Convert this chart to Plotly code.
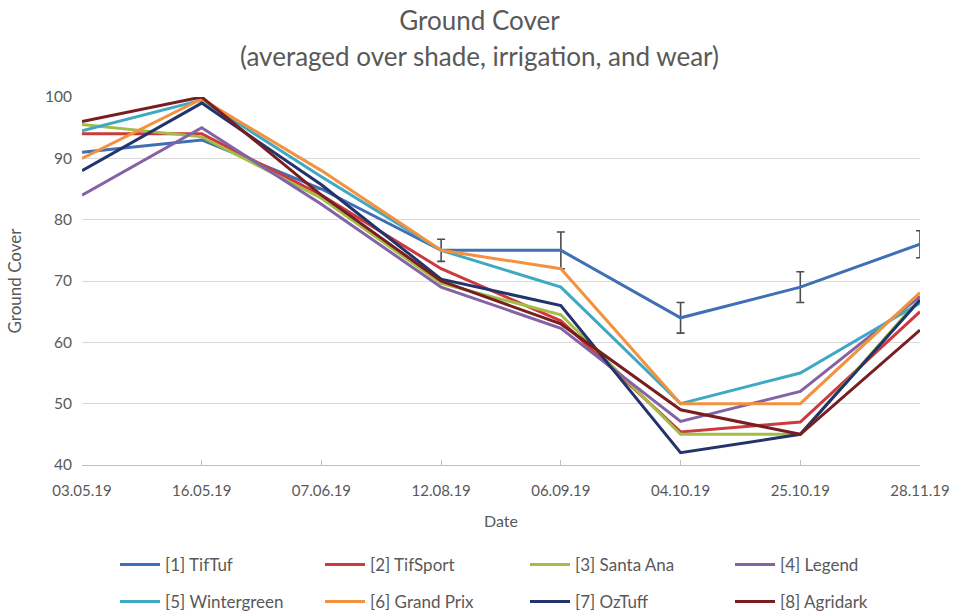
import plotly.graph_objects as go

dates = ["03.05.19", "16.05.19", "07.06.19", "12.08.19", "06.09.19", "04.10.19", "25.10.19", "28.11.19"]

tiftuf      = [91, 93, 85, 75, 75, 64, 69, 76]
tiftuf_err  = [0, 0, 0, 1.8, 3.0, 2.5, 2.5, 2.2]
tifsport    = [94, 94, 84, 72, 63.5, 45.4, 47, 65]
santa_ana   = [95.5, 93.5, 83.5, 69.6, 64.5, 45, 45, 67.2]
legend_v    = [84, 95, 82.5, 69, 62.3, 47.1, 52, 67.5]
wintergreen = [94.5, 99.5, 87, 75, 69, 50, 55, 66.4]
grand_prix  = [90, 99.7, 88, 75, 72, 50, 50, 68.1]
oztuff      = [88, 99, 85.7, 70.3, 66, 42, 45, 66.9]
agridark    = [96, 100, 84, 70, 63, 49, 45, 62]

names = ["[1] TifTuf", "[2] TifSport", "[3] Santa Ana", "[4] Legend",
         "[5] Wintergreen", "[6] Grand Prix", "[7] OzTuff", "[8] Agridark"]
series = [tiftuf, tifsport, santa_ana, legend_v, wintergreen, grand_prix, oztuff, agridark]
colors = ["#3F6FB4", "#CC3A3F", "#A2BE45", "#8363A6", "#3FA9C4", "#F3923E", "#22346B", "#781E20"]

title_line1 = "Ground Cover"
title_line2 = "(averaged over shade, irrigation, and wear)"

FONT = "Lato"
TXT = "#595959"

fig = go.Figure()
for i in range(8):
    kw = {}
    if i == 0:
        kw["error_y"] = dict(type="data", array=tiftuf_err, visible=True,
                             color="#4D4D4D", thickness=1.6, width=4)
    fig.add_trace(go.Scatter(
        x=dates, y=series[i], mode="lines", name=names[i],
        line=dict(color=colors[i], width=3),
        legend="legend" if i < 4 else "legend2",
        **kw))

fig.update_layout(
    width=959, height=614,
    paper_bgcolor="white", plot_bgcolor="white",
    margin=dict(l=82, r=39, t=97, b=149),
    font=dict(family=FONT, color=TXT, size=15),
    title=dict(text=title_line1,
               x=0.5, xref="container", xanchor="center",
               y=1 - 21/614, yref="container", yanchor="middle",
               font=dict(family=FONT, size=26, color=TXT)),
    xaxis=dict(type="category", range=[0, 7], showgrid=False, automargin=False,
               showline=True, linecolor="#BFBFBF", linewidth=1,
               ticks="inside", ticklen=5, tickcolor="#BFBFBF",
               tickfont=dict(size=15, color=TXT), ticklabelstandoff=12,
               title=dict(text="Date", font=dict(size=16, color=TXT), standoff=17),
               zeroline=False),
    yaxis=dict(range=[40, 100], dtick=10, showgrid=True, gridcolor="#D9D9D9",
               gridwidth=1, showline=False, zeroline=False, ticks="", automargin=False,
               tickfont=dict(size=15.5, color=TXT), ticklabelstandoff=9,
               title=dict(text="Ground Cover", font=dict(size=17, color=TXT), standoff=19)),
    legend=dict(orientation="h", xref="container", yref="container",
                x=115/959, xanchor="left", y=1 - 547/614, yanchor="top",
                entrywidth=150, entrywidthmode="pixels", itemwidth=40,
                font=dict(size=17, color=TXT), bgcolor="rgba(0,0,0,0)"),
    legend2=dict(orientation="h", xref="container", yref="container",
                 x=115/959, xanchor="left", y=1 - 584/614, yanchor="top",
                 entrywidth=150, entrywidthmode="pixels", itemwidth=40,
                 font=dict(size=17, color=TXT), bgcolor="rgba(0,0,0,0)"),
    showlegend=True,
    annotations=[dict(text=title_line2, xref="paper", yref="paper",
                      x=(479.5 - 82) / 838, y=1 + (97 - 56) / 368,
                      xanchor="center", yanchor="middle", showarrow=False,
                      font=dict(family=FONT, size=26, color=TXT))],
)

fig.write_html("out.html", config={"displayModeBar": False},
               post_script="document.body.style.margin='0';document.body.style.overflow='hidden';")
